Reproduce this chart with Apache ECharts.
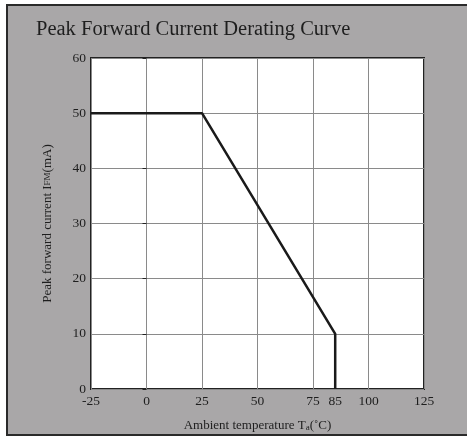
<!DOCTYPE html>
<html>
<head>
<meta charset="utf-8">
<script src="https://cdn.jsdelivr.net/npm/echarts@6/dist/echarts.min.js"></script>
<style>
html,body{margin:0;padding:0;background:#fff;}
#c{width:467px;height:437px;}
</style>
</head>
<body>
<div id="c"></div>
<script>
var temperature = [-25, 25, 85, 85];
var current = [50, 50, 10, 0];
var xTickLabels = [-25, 0, 25, 50, 75, 85, 100, 125];
var yTickLabels = [0, 10, 20, 30, 40, 50, 60];

var chart = echarts.init(document.getElementById('c'));
var font = '"Liberation Serif", "DejaVu Serif", serif';
var txt = '#1e1e1e';
var seriesData = temperature.map(function (t, i) { return [t, current[i]]; });

chart.setOption({
  backgroundColor: '#fff',
  animation: false,
  graphic: [
    { type: 'rect', shape: { x: 7, y: 5, width: 470, height: 430 }, style: { fill: '#a9a7a8', stroke: '#2a2a2a', lineWidth: 2 }, z: -10 },
    { type: 'text', left: 36, top: 19, style: { text: 'Peak Forward Current Derating Curve', font: '20.5px ' + font, fill: txt }, z: 10 }
  ],
  grid: { left: 91, right: 43, top: 58, bottom: 48, show: true, backgroundColor: '#fff', borderColor: '#222', borderWidth: 2 },
  xAxis: {
    type: 'value', min: -25, max: 125, interval: 25,
    axisLine: { show: false },
    axisTick: { show: false },
    splitLine: { show: true, lineStyle: { color: '#8a8a8a', width: 1 } },
    axisLabel: { customValues: xTickLabels, color: txt, fontFamily: font, fontSize: 13.5, margin: 5 },
    name: '{n|Ambient temperature T}{s|a}{n|(˚C)}',
    nameLocation: 'middle', nameGap: 30,
    nameTextStyle: { rich: { n: { fontFamily: font, fontSize: 13, color: txt }, s: { fontFamily: font, fontSize: 9, color: txt, verticalAlign: 'bottom', padding: [4, 0, 0, 0] } } }
  },
  yAxis: {
    type: 'value', min: 0, max: 60, interval: 10,
    axisLine: { show: false },
    axisTick: { show: true, length: 4, lineStyle: { color: '#222' } },
    splitLine: { show: true, lineStyle: { color: '#8a8a8a', width: 1 } },
    axisLabel: { customValues: yTickLabels, color: txt, fontFamily: font, fontSize: 13.5, margin: 5 },
    name: '{n|Peak forward current I}{s|FM}{n|(mA)}',
    nameLocation: 'middle', nameGap: 37,
    nameTextStyle: { rich: { n: { fontFamily: font, fontSize: 13, color: txt }, s: { fontFamily: font, fontSize: 9, color: txt } } }
  },
  series: [{
    type: 'line', data: seriesData, showSymbol: false, symbol: 'none',
    lineStyle: { color: '#1a1a1a', width: 2.5 }, clip: false
  }]
});
</script>
</body>
</html>
